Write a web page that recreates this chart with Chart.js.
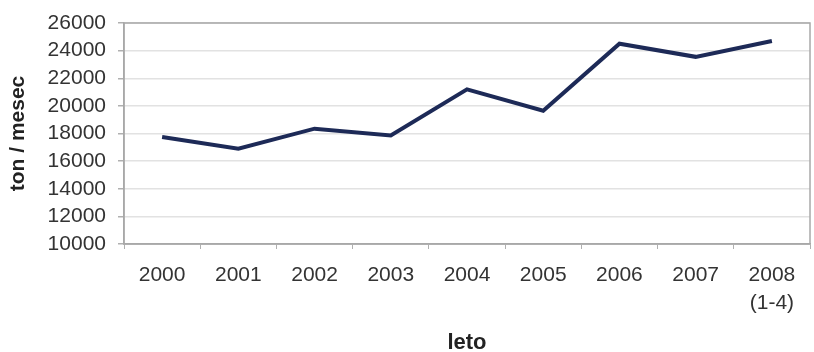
<!DOCTYPE html>
<html>
<head>
<meta charset="utf-8">
<script src="https://cdn.jsdelivr.net/npm/chart.js@4/dist/chart.umd.min.js"></script>
<style>
  html, body { margin: 0; padding: 0; background: #fff; }
  #wrap { width: 814px; height: 352px; }
</style>
</head>
<body>
<div id="wrap"><canvas id="c" width="814" height="352"></canvas></div>
<script>
const categories = ["2000", "2001", "2002", "2003", "2004", "2005", "2006", "2007", ["2008", "(1-4)"]];
const values = [17750, 16900, 18350, 17850, 21200, 19650, 24500, 23550, 24700];
const yMin = 10000, yMax = 26000, yStep = 2000;
const xTitle = "leto";
const yTitle = "ton / mesec";

const frame = {
  id: 'frame',
  afterDraw(chart) {
    const a = chart.chartArea, ctx = chart.ctx;
    ctx.save();
    ctx.strokeStyle = '#a8a8a8';
    ctx.lineWidth = 1.5;
    ctx.strokeRect(a.left, a.top, a.right - a.left, a.bottom - a.top);
    ctx.restore();
  }
};

new Chart(document.getElementById('c'), {
  type: 'line',
  data: {
    labels: categories,
    datasets: [{
      data: values,
      borderColor: '#1d2a57',
      borderWidth: 4,
      pointRadius: 0,
      tension: 0,
      fill: false
    }]
  },
  options: {
    responsive: false,
    animation: false,
    devicePixelRatio: 1,
    layout: { padding: { top: 23, right: 4, left: 0, bottom: 0 } },
    plugins: { legend: { display: false }, tooltip: { enabled: false } },
    scales: {
      x: {
        offset: true,
        grid: { offset: true, drawOnChartArea: false, drawTicks: true, tickLength: 5, color: '#b0b0b0', lineWidth: 1 },
        border: { color: '#a8a8a8', width: 1.5 },
        ticks: { color: '#333', font: { family: 'Liberation Sans, Arial', size: 21, lineHeight: 1.3 }, padding: 13, maxRotation: 0, autoSkip: false },
        title: { display: true, text: xTitle, color: '#222', font: { family: 'Liberation Sans, Arial', size: 22, weight: 'bold', lineHeight: 1.0 }, padding: { top: 0, bottom: -2 } },
        afterFit(scale) { scale.height = 108; }
      },
      y: {
        min: yMin, max: yMax,
        ticks: { stepSize: yStep, autoSkip: false, color: '#333', font: { family: 'Liberation Sans, Arial', size: 21, lineHeight: 1.0 }, padding: 12, callback: (v) => String(v) },
        grid: { color: '#e2e2e2', lineWidth: 1.5, tickColor: '#b0b0b0', tickLength: 6 },
        border: { color: '#a8a8a8', width: 1.5 },
        title: { display: true, text: yTitle, color: '#222', font: { family: 'Liberation Sans, Arial', size: 21, weight: 'bold', lineHeight: 1.2 }, padding: { top: 6, bottom: 0 } },
        afterFit(scale) { scale.width = 124; }
      }
    }
  },
  plugins: [frame]
});
</script>
</body>
</html>
